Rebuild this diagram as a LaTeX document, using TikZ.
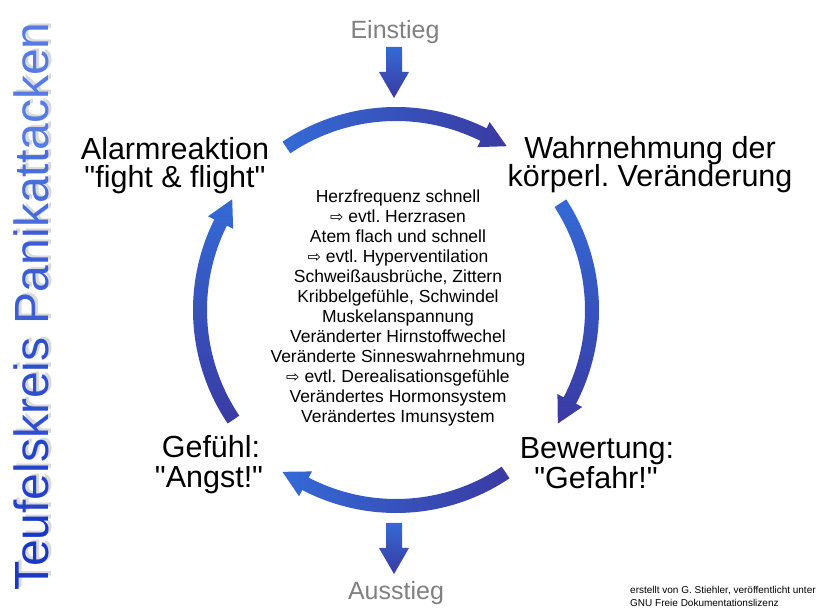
\documentclass[tikz,border=0pt]{standalone}
\usepackage{fontspec}
\setmainfont{Liberation Sans}[Ligatures=TeXOff]
\newfontfamily\djv{DejaVu Sans}
\usetikzlibrary{calc}
\definecolor{arrL}{RGB}{52,106,214}
\definecolor{arrD}{RGB}{58,58,162}
\definecolor{titD}{RGB}{26,56,196}
\definecolor{titL}{RGB}{92,132,232}
\definecolor{grayT}{RGB}{128,128,128}
\newcommand\cyclearrow[3]{%
  \shade[#3] ($(C)+(#1:203)$) arc[start angle=#1, end angle=#2, radius=203]
    -- ($(C)+(#2:210)$) -- ($(C)+(#2:196)+({#2-90}:26)$) -- ($(C)+(#2:182)$)
    -- ($(C)+(#2:189)$) arc[start angle=#2, end angle=#1, radius=189] -- cycle;}
\newcommand\downarrowshape[3]{% x, shaft top y, shading
  \shade[#3] (#1-8,#2) -- (#1+8,#2) -- (#1+8,#2-25) -- (#1+15,#2-25) -- (#1,#2-51)
    -- (#1-15,#2-25) -- (#1-8,#2-25) -- cycle;}
\newcommand\pfeil{{\djv\fontsize{16}{16}\selectfont ⇨}}
\begin{document}
\frenchspacing
\begin{tikzpicture}[x=1pt,y=1pt,
  lab/.style={font=\fontsize{30.5}{30.5}\selectfont, anchor=base, inner sep=0pt},
  grayl/.style={font=\fontsize{25}{25}\selectfont, text=grayT, anchor=base, inner sep=0pt},
  foot/.style={font=\fontsize{10}{12}\selectfont, anchor=base west, inner sep=0pt},
  symlist/.style={font=\fontsize{17.5}{20}\selectfont, align=center, anchor=north, inner sep=0pt},
  titlefont/.style={font=\fontsize{48}{48}\selectfont, rotate=90, anchor=base west, inner sep=0pt}
]
\useasboundingbox (0,0) rectangle (820,610);
\coordinate (C) at (396,300);

% title with shadow
\node[titlefont, text=black!25, opacity=0.6] (titleshadow) at (51,21) {Teufelskreis Panikattacken};
\node[titlefont] (title) at (48,19) {\textcolor{titD}{Teu}\textcolor{titD!85!titL}{fels}\textcolor{titD!70!titL}{kreis} \textcolor{titD!50!titL}{Pani}\textcolor{titD!30!titL}{katt}\textcolor{titD!10!titL}{acken}};

% cycle arrows
\cyclearrow{124}{63.5}{left color=arrL, right color=arrD}
\cyclearrow{33}{-27.5}{top color=arrL, bottom color=arrD}
\cyclearrow{-56}{-117.5}{left color=arrL, right color=arrD}
\cyclearrow{214}{153.5}{top color=arrL, bottom color=arrD}

% entry / exit
\node[grayl] (ein) at (395,571) {Einstieg};
\downarrowshape{394}{563}{top color=arrL, bottom color=arrD}
\downarrowshape{394}{87}{top color=arrL, bottom color=arrD}
\node[grayl] (aus) at (396,10) {Ausstieg};

% labels
\node[lab] (alarm1) at (175,450) {Alarmreaktion};
\node[lab] (alarm2) at (175,422) {"fight \& flight"};
\node[lab] (wahr1) at (650,451) {Wahrnehmung der};
\node[lab] (wahr2) at (650,423) {körperl. Veränderung};
\node[lab] (bew1) at (597,151) {Bewertung:};
\node[lab] (bew2) at (596,121) {"Gefahr!"};
\node[lab] (gef1) at (211,152) {Gefühl:};
\node[lab] (gef2) at (209,122) {"Angst!"};

% symptoms
\node[symlist] (sym) at (398,420) {Herzfrequenz schnell\\
\pfeil{} evtl. Herzrasen\\
Atem flach und schnell\\
\pfeil{} evtl. Hyperventilation\\
Schweißausbrüche, Zittern\\
Kribbelgefühle, Schwindel\\
Muskelanspannung\\
Veränderter Hirnstoffwechel\\
Veränderte Sinneswahrnehmung\\
\pfeil{} evtl. Derealisationsgefühle\\
Verändertes Hormonsystem\\
Verändertes Imunsystem};

% footnote
\node[foot] (foot1) at (630,16) {erstellt von G. Stiehler, veröffentlicht unter};
\node[foot] (foot2) at (630,3) {GNU Freie Dokumentationslizenz};
\end{tikzpicture}
\end{document}
